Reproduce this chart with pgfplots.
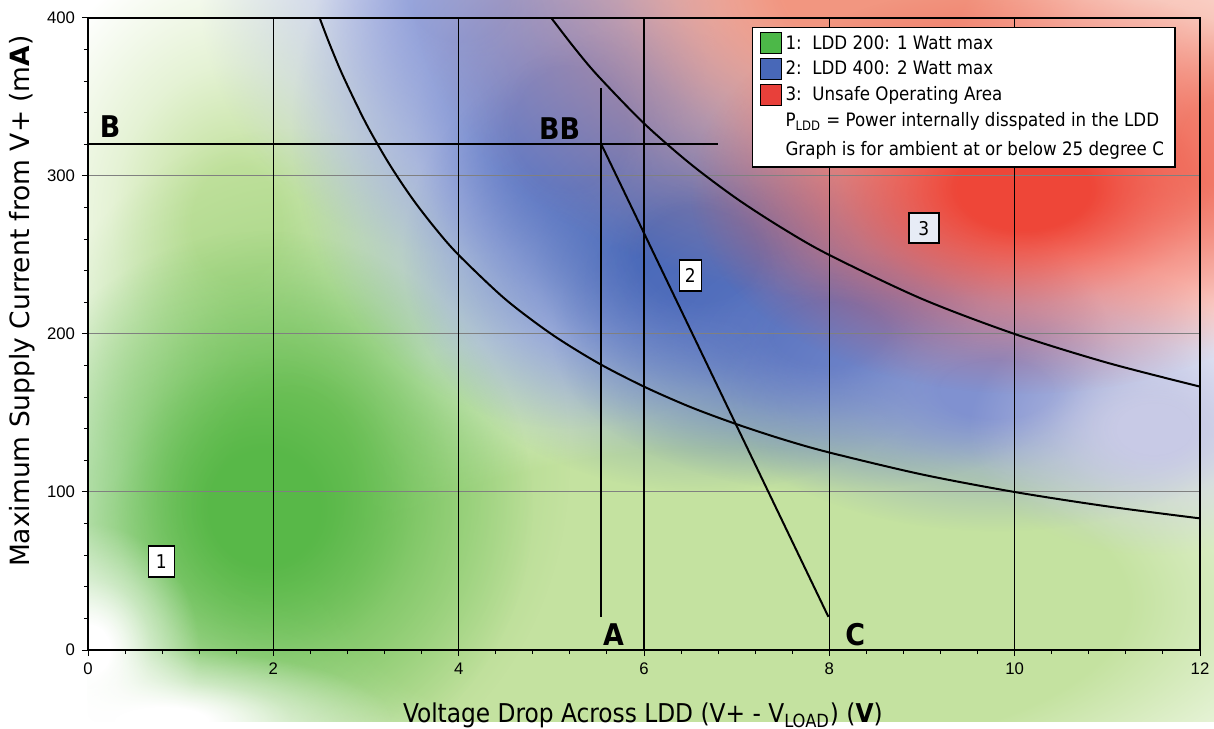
\documentclass[border=0pt]{standalone}
\usepackage{pgfplots}
\pgfplotsset{compat=1.18}
\usepackage{fontspec}
\setmainfont{DejaVu Sans Condensed}
\newfontfamily\arialfont{Liberation Sans}
\newfontfamily\widefont{DejaVu Sans}
\usetikzlibrary{fadings}
\colorlet{fadegray}{white!45!black}
\pgfdeclareradialshading{softshade}{\pgfpointorigin}{color(0bp)=(white); color(5bp)=(white); color(14bp)=(fadegray); color(25bp)=(black); color(50bp)=(black)}
\pgfdeclarefading{soft}{\pgfuseshading{softshade}}
\pgfdeclareradialshading{wideshade}{\pgfpointorigin}{color(0bp)=(white); color(14bp)=(white); color(25bp)=(black); color(50bp)=(black)}
\pgfdeclarefading{wide}{\pgfuseshading{wideshade}}
\definecolor{lgreen}{RGB}{196,226,160}
\definecolor{mgreen}{RGB}{140,204,110}
\definecolor{dgreen}{RGB}{88,184,72}
\definecolor{paleblue}{RGB}{170,180,226}
\definecolor{midblue}{RGB}{108,130,203}
\definecolor{darkblue}{RGB}{72,104,184}
\definecolor{darkblueb}{RGB}{90,116,192}
\definecolor{rightblue}{RGB}{128,145,208}
\definecolor{farblue}{RGB}{200,202,230}
\definecolor{salmon}{RGB}{242,150,128}
\definecolor{salmonb}{RGB}{244,160,140}
\definecolor{darkred}{RGB}{238,70,56}
\definecolor{leggreen}{RGB}{76,184,72}
\definecolor{legblue}{RGB}{72,104,184}
\definecolor{legred}{RGB}{232,64,58}
\definecolor{boxthree}{RGB}{231,236,246}
\pgfplotsset{sqlegend/.style={legend image code/.code={\draw[##1,draw=black,line width=0.5bp] (0bp,-5bp) rectangle (10.5bp,5.5bp);}}}
\newcommand\blob[6]{\fill[#1, path fading=#2, fit fading=true] (axis cs:#3,#4) ellipse [x radius=#5, y radius=#6];}
\begin{document}
\begin{tikzpicture}
\useasboundingbox (-44bp,-39.5bp) rectangle (563bp,325bp);
\begin{axis}[
  at={(0,0)}, anchor=south west,
  width=556bp, height=316bp, scale only axis,
  xmin=0, xmax=12, ymin=0, ymax=400,
  clip=false, axis on top,
  tick pos=left,
  axis line style={black, line width=0.6bp},
  xtick={0,2,...,12}, ytick={0,100,...,400},
  minor x tick num=4, minor y tick num=4,
  tick align=outside,
  major tick length=3bp, minor tick length=2bp,
  tick style={black, line width=0.5bp},
  /pgf/number format/assume math mode=true,
  tick label style={font=\arialfont\fontsize{8.4}{10}\selectfont},
  xlabel={Voltage Drop Across LDD (V+ - V\textsubscript{LOAD}) (\textbf{V})},
  ylabel={Maximum Supply Current from V+ (m\textbf{A})},
  xlabel style={font=\fontsize{13}{14}\selectfont, at={(axis description cs:0.499,-0.114)}, anchor=base},
  ylabel style={font=\widefont\fontsize{13.3}{14}\selectfont, at={(axis description cs:-0.0594,0.552)}, anchor=center},
  legend style={at={(0.978,0.986)}, anchor=north east, draw=black, line width=0.6bp,
    fill=white, font=\fontsize{9.3}{10}\selectfont, row sep=0.5bp, inner xsep=3.5bp, inner ysep=2bp},
  legend cell align=left,
]
\begin{scope}
\clip (axis cs:0,-45) rectangle (axis cs:12.15,412);
\blob{lgreen}{wide}{7}{30}{7.5}{175}
\blob{lgreen}{soft}{1.6}{270}{2.4}{180}
\blob{mgreen}{soft}{2.2}{120}{3.0}{210}
\blob{dgreen}{soft}{1.9}{90}{2.9}{175}
\blob{white}{soft}{0}{0}{1.2}{80}
\blob{white}{soft}{0.8}{-45}{2.5}{45}
\blob{paleblue}{soft}{4.0}{420}{2.8}{170}
\blob{midblue}{soft}{5.2}{330}{3.0}{190}
\blob{darkblue}{soft}{6.6}{250}{3.2}{150}
\blob{darkblueb}{soft}{8.0}{200}{3.0}{100}
\blob{rightblue}{soft}{9.8}{165}{3.0}{90}
\blob{farblue}{soft}{11.5}{140}{2.0}{80}
\blob{salmon}{soft}{8.5}{420}{5.0}{200}
\blob{salmonb}{soft}{12.2}{320}{2.0}{130}
\blob{darkred}{soft}{10.1}{292}{3.6}{130}
\end{scope}
% grid
\addplot[gray, line width=0.5bp, forget plot] coordinates {(0,100) (12,100)};
\addplot[gray, line width=0.5bp, forget plot] coordinates {(0,200) (12,200)};
\addplot[gray, line width=0.5bp, forget plot] coordinates {(0,300) (12,300)};
\addplot[black, line width=0.7bp, forget plot] coordinates {(2,0) (2,400)};
\addplot[black, line width=0.7bp, forget plot] coordinates {(4,0) (4,400)};
\addplot[black, line width=0.7bp, forget plot] coordinates {(6,0) (6,400)};
\addplot[black, line width=0.7bp, forget plot] coordinates {(8,0) (8,400)};
\addplot[black, line width=0.7bp, forget plot] coordinates {(10,0) (10,400)};
% curves
\addplot[black, line width=1bp, smooth, forget plot] coordinates {
(2.5,400) (2.6,384.6) (2.75,363.6) (3.0,333.3) (3.25,307.7) (3.5,285.7) (3.75,266.7)
(4.0,250) (4.5,222.2) (5.0,200) (5.5,181.8) (6.0,166.7) (6.5,153.8) (7.0,142.9)
(7.5,133.3) (8.0,125) (9.0,111.1) (10,100) (11,90.9) (12,83.3)};
\addplot[black, line width=1bp, smooth, forget plot] coordinates {
(5.0,400) (5.25,381.0) (5.5,363.6) (6.0,333.3) (6.5,307.7) (7.0,285.7) (7.5,266.7)
(8.0,250) (9.0,222.2) (10,200) (11,181.8) (12,166.7)};
% operating lines
\addplot[black, line width=1bp, forget plot] coordinates {(0,320) (6.8,320)};
\addplot[black, line width=1bp, forget plot] coordinates {(5.54,21) (5.54,356)};
\addplot[black, line width=1bp, forget plot] coordinates {(5.54,320) (7.99,21)};
% legend
\addlegendimage{sqlegend, fill=leggreen}
\addlegendentry{1:\ \ LDD 200: 1 Watt max}
\addlegendimage{sqlegend, fill=legblue}
\addlegendentry{2:\ \ LDD 400: 2 Watt max}
\addlegendimage{sqlegend, fill=legred}
\addlegendentry{3:\ \ Unsafe Operating Area}
\addlegendimage{empty legend}
\addlegendentry{P\textsubscript{LDD} = Power internally disspated in the LDD}
\addlegendimage{empty legend}
\addlegendentry{\rule{0pt}{8.5bp}Graph is for ambient at or below 25 degree C}
% labels
\node[font=\bfseries\fontsize{15}{15}\selectfont] at (axis cs:0.24,331) {B};
\node[font=\bfseries\fontsize{15}{15}\selectfont] at (axis cs:5.09,330) {BB};
\node[font=\bfseries\fontsize{15}{15}\selectfont] at (axis cs:5.67,10) {A};
\node[font=\bfseries\fontsize{15}{15}\selectfont] at (axis cs:8.28,10) {C};
\node[draw=black, fill=white, line width=0.7bp, inner sep=1bp, minimum width=13bp, minimum height=15.5bp, font=\fontsize{9.5}{10}\selectfont] at (axis cs:0.79,56) {1};
\node[draw=black, fill=white, line width=0.7bp, inner sep=1bp, minimum width=11bp, minimum height=15.5bp, font=\fontsize{9.5}{10}\selectfont] at (axis cs:6.5,237) {2};
\node[draw=black, fill=boxthree, line width=0.7bp, inner sep=1bp, minimum width=15bp, minimum height=15bp, font=\fontsize{9.5}{10}\selectfont] at (axis cs:9.02,267) {3};
\end{axis}
\end{tikzpicture}
\end{document}
